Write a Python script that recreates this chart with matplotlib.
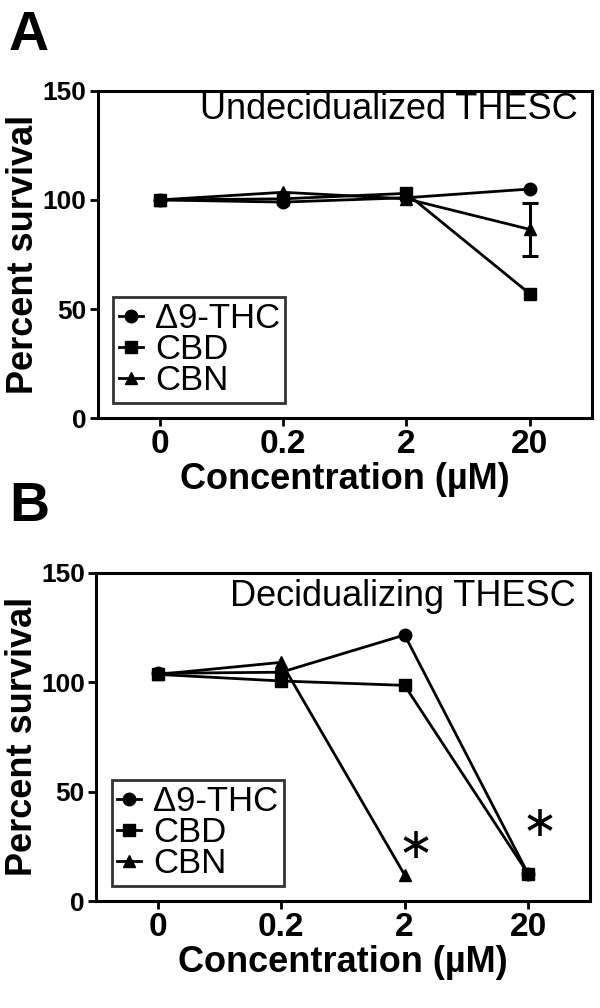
import numpy as np
import matplotlib
matplotlib.use('Agg')
import matplotlib.pyplot as plt

plt.rcParams['font.family'] = ['Liberation Sans', 'DejaVu Sans']

# Concentrations (categorical x axis)
conc_labels = ['0', '0.2', '2', '20']

# Panel A: undecidualized THESC, percent survival
a_thc = [100, 99, 101, 105]
a_cbd = [100, 100.5, 103, 57]
a_cbn = [100, 103.5, 100.5, 86.5]
a_cbn_err = [np.nan, np.nan, np.nan, 12.2]

# Panel B: decidualizing THESC, percent survival
b_thc = [104, 104.5, 121.5, 12.5]
b_cbd = [103.5, 100.5, 98.5, 12.5]
b_cbn = [103.5, 109, 12, np.nan]

# significance marks in panel B (x index, y)
b_star_x = [2, 3]
b_star_y = [25, 35]

series_names = ['\u03949-THC', 'CBD', 'CBN']
markers = ['o', 's', '^']

fig = plt.figure(figsize=(6, 10.08), dpi=100)
ax_a = fig.add_axes([0.163, 0.585, 0.823, 0.325])
ax_b = fig.add_axes([0.160, 0.106, 0.823, 0.326])


def style_axis(ax, title, title_y):
    x = np.arange(len(conc_labels))
    ax.set_xlim(-0.5, 3.5)
    ax.set_ylim(0, 150)
    ax.set_xticks(x)
    ax.set_xticklabels(conc_labels, fontsize=24, fontweight='bold')
    ax.set_yticks([0, 50, 100, 150])
    ax.set_yticklabels(['0', '50', '100', '150'], fontsize=19, fontweight='bold')
    ax.tick_params(direction='out', length=6, width=2, pad=2)
    for s in ax.spines.values():
        s.set_linewidth(2.2)
    ax.set_xlabel('Concentration (\u00b5M)', fontsize=26, fontweight='bold', labelpad=1)
    ax.set_ylabel('Percent survival', fontsize=26, fontweight='bold', labelpad=1)
    ax.text(0.972, title_y, title, transform=ax.transAxes, ha='right', va='top',
            fontsize=26)
    leg = ax.legend(loc='lower left', fontsize=25, frameon=True, fancybox=False,
                    edgecolor='black', handlelength=0.7, handletextpad=0.35,
                    labelspacing=-0.05, borderpad=0.15, borderaxespad=0.45)
    leg.get_frame().set_linewidth(2)


x = np.arange(len(conc_labels))
for vals, name, m in zip([a_thc, a_cbd, a_cbn], series_names, markers):
    ax_a.plot(x, vals, color='black', lw=2, marker=m, ms=9, label=name)
ax_a.errorbar(x, a_cbn, yerr=a_cbn_err, fmt='none', ecolor='black',
              elinewidth=2.2, capsize=6, capthick=2.2)
style_axis(ax_a, 'Undecidualized THESC', 0.995)

for vals, name, m in zip([b_thc, b_cbd, b_cbn], series_names, markers):
    ax_b.plot(x, vals, color='black', lw=2, marker=m, ms=9, label=name)
for sx, sy in zip(b_star_x, b_star_y):
    ax_b.text(sx + 0.09, sy, '\u2217', fontsize=31, ha='center', va='center',
              family='DejaVu Sans')
style_axis(ax_b, 'Decidualizing THESC', 0.98)

fig.text(0.015, 0.99, 'A', fontsize=40, fontweight='bold', va='top', ha='left')
fig.text(0.015, 0.523, 'B', fontsize=40, fontweight='bold', va='top', ha='left')

fig.savefig('out.png', dpi=100)
